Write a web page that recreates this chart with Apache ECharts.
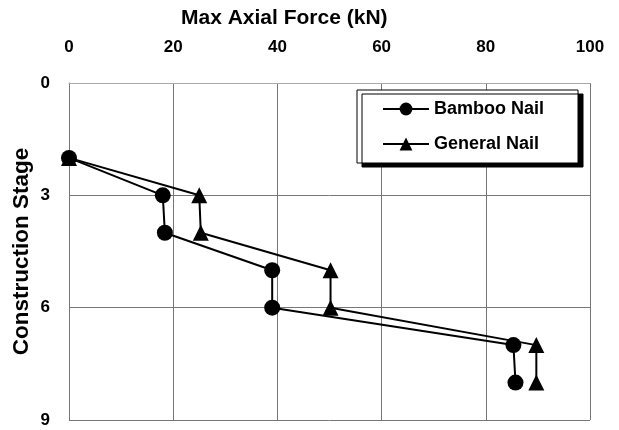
<!DOCTYPE html>
<html><head><meta charset="utf-8">
<script src="https://cdn.jsdelivr.net/npm/echarts@6/dist/echarts.min.js"></script>
<style>html,body{margin:0;padding:0;background:#fff}#c{width:619px;height:430px}</style>
</head><body><div id="c"></div>
<script>
const stages = [2, 3, 4, 5, 6, 7, 8];
const bambooForce = [0, 18, 18.4, 39, 39, 85.3, 85.7];
const generalForce = [0, 25, 25.3, 50.2, 50.2, 89.7, 89.7];
const xTicks = [0, 20, 40, 60, 80, 100];
const yTicks = [0, 3, 6, 9];
const seriesNames = ['Bamboo Nail', 'General Nail'];
const xTitle = 'Max Axial Force (kN)';
const yTitle = 'Construction Stage';

const chart = echarts.init(document.getElementById('c'));
const font = 'Liberation Sans, Arial, sans-serif';
chart.setOption({
  animation: false,
  backgroundColor: '#fff',
  title: {
    text: xTitle, left: 181, top: 8, padding: 0,
    textStyle: {fontFamily: font, fontWeight: 'bold', fontSize: 21, color: '#000'}
  },
  grid: {left: 69, right: 29, top: 83, bottom: 10, containLabel: false, outerBoundsMode: 'none'},
  legend: {
    data: seriesNames,
    left: 357, top: 90,
    orient: 'vertical',
    itemWidth: 46, itemHeight: 16, itemGap: 17,
    padding: [10, 34, 10, 25],
    backgroundColor: '#fff',
    borderColor: '#000', borderWidth: 1,
    shadowColor: '#000', shadowBlur: 0, shadowOffsetX: 5, shadowOffsetY: 4,
    textStyle: {fontFamily: font, fontWeight: 'bold', fontSize: 18, color: '#000'}
  },
  xAxis: {
    type: 'value', position: 'top', min: 0, max: 100, interval: 20,
    axisLine: {show: true, lineStyle: {color: '#aaa', width: 1}},
    axisTick: {show: false},
    axisLabel: {margin: 27, fontFamily: font, fontWeight: 'bold', fontSize: 17, color: '#000',
      formatter: v => xTicks.includes(v) ? String(v) : ''},
    splitLine: {show: true, lineStyle: {color: '#777', width: 1}}
  },
  yAxis: {
    type: 'value', inverse: true, min: 0, max: 9, interval: 3,
    name: yTitle, nameLocation: 'middle', nameGap: 36, nameRotate: 90, nameMoveOverlap: false,
    nameTextStyle: {fontFamily: font, fontWeight: 'bold', fontSize: 22.5, color: '#000'},
    axisLine: {show: true, lineStyle: {color: '#777', width: 1}},
    axisTick: {show: false},
    axisLabel: {margin: 19, fontFamily: font, fontWeight: 'bold', fontSize: 17, color: '#000',
      formatter: v => yTicks.includes(v) ? String(v) : ''},
    splitLine: {show: true, lineStyle: {color: '#777', width: 1}}
  },
  series: [
    {name: seriesNames[0], type: 'line', symbol: 'circle', symbolSize: 16,
     data: stages.map((s, i) => [bambooForce[i], s]),
     lineStyle: {color: '#000', width: 2}, itemStyle: {color: '#000'}},
    {name: seriesNames[1], type: 'line', symbol: 'triangle', symbolSize: 16,
     data: stages.map((s, i) => [generalForce[i], s]),
     lineStyle: {color: '#000', width: 2}, itemStyle: {color: '#000'}}
  ]
});
</script></body></html>
